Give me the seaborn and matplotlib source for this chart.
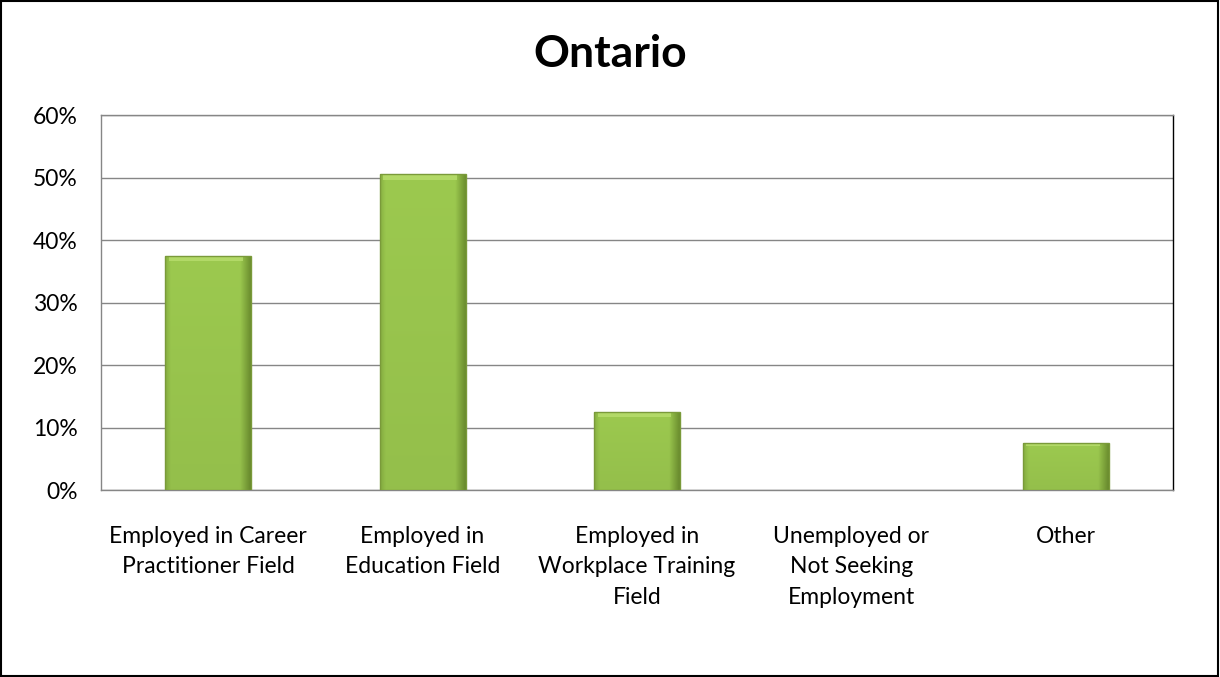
import numpy as np
import pandas as pd
import matplotlib
matplotlib.use("Agg")
import matplotlib.pyplot as plt
from matplotlib.patches import Rectangle
from matplotlib.ticker import PercentFormatter
import seaborn as sns

categories = [
    "Employed in Career\nPractitioner Field",
    "Employed in\nEducation Field",
    "Employed in\nWorkplace Training\nField",
    "Unemployed or\nNot Seeking\nEmployment",
    "Other",
]
shares = [37.5, 50.5, 12.5, 0.0, 7.5]
y_ticks = [0, 10, 20, 30, 40, 50, 60]
title = "Ontario"

sns.set_theme(style="white")
plt.rcParams["font.family"] = ["Lato", "DejaVu Sans"]
plt.rcParams["text.color"] = "black"

df = pd.DataFrame({"category": categories, "share": shares})

fig = plt.figure(figsize=(12.2, 6.77), dpi=100)
ax = fig.add_axes([0.0828, 0.2762, 0.8787, 0.5539])

sns.barplot(data=df, x="category", y="share", color="#9cc94f", width=0.4,
            saturation=1, ax=ax, zorder=3, edgecolor="none")

# shaded fill for each bar: lighter face, darker right edge, bevelled top
nx, ny = 60, 60
xs = np.linspace(0, 1, nx)
ys = np.linspace(0, 1, ny)
X, Y = np.meshgrid(xs, ys)
base = np.array([156, 201, 79]) / 255
dark = np.array([110, 145, 48]) / 255
light = np.array([185, 222, 110]) / 255
img = np.ones((ny, nx, 3)) * base
# right edge darkening
w_r = np.clip((X - 0.88) / 0.12, 0, 1)[..., None]
img = img * (1 - w_r) + dark * w_r
# left edge slight shade
w_l = np.clip((0.06 - X) / 0.06, 0, 1)[..., None] * 0.4
img = img * (1 - w_l) + dark * w_l
# gentle vertical fade
img = img * (0.95 + 0.05 * Y[..., None])

for p in ax.patches:
    x0, y0 = p.get_x(), p.get_y()
    w, h = p.get_width(), p.get_height()
    if h <= 0:
        continue
    im = ax.imshow(img, extent=[x0, x0 + w, y0, y0 + h], origin="lower",
                   aspect="auto", zorder=4, interpolation="bilinear")
    im.set_clip_path(p)
    # light band along the top
    band = min(h * 0.06, 0.9)
    ax.add_patch(Rectangle((x0 + w * 0.04, y0 + h - band), w * 0.86, band,
                           facecolor=light, edgecolor="none", alpha=0.8, zorder=5))
    ax.add_patch(Rectangle((x0, y0), w, h, facecolor="none",
                           edgecolor="#7a9a3a", linewidth=1.0, zorder=6))

ax.set_xlim(-0.5, len(categories) - 0.5)
ax.set_ylim(0, 60)
ax.set_yticks(y_ticks)
ax.yaxis.set_major_formatter(PercentFormatter(decimals=0))
ax.grid(axis="y", color="#868686", linewidth=1.0, zorder=0)
ax.set_axisbelow(True)
ax.set_xlabel("")
ax.set_ylabel("")
ax.tick_params(axis="both", labelsize=16.5, colors="black", length=0)
ax.tick_params(axis="x", pad=26)
ax.tick_params(axis="y", pad=17)
for lbl in ax.get_xticklabels():
    lbl.set_linespacing(1.55)
    lbl.set_verticalalignment("top")
for side in ["left", "top", "bottom"]:
    ax.spines[side].set_color("#868686")
    ax.spines[side].set_linewidth(1.0)
ax.spines["right"].set_color("black")
ax.spines["right"].set_linewidth(1.0)

fig.text(0.5, 0.92, title, ha="center", va="center", fontsize=32,
         fontweight="bold", color="black")

fig.patches.append(Rectangle((0.001, 0.002), 0.997, 0.996, transform=fig.transFigure,
                             fill=False, edgecolor="black", linewidth=1.5))

fig.savefig("out.png", dpi=100)
